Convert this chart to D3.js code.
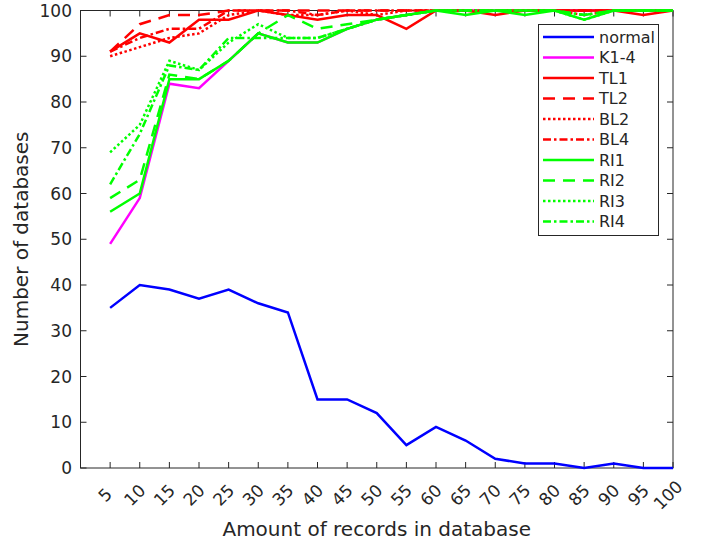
<!DOCTYPE html>
<html><head><meta charset="utf-8">
<script src="https://cdn.jsdelivr.net/npm/d3@7"></script>
<style>body{margin:0;background:#fff}svg{display:block}</style>
</head><body>
<svg id="c" width="710" height="543"></svg>
<script>
const xValues = [5,10,15,20,25,30,35,40,45,50,55,60,65,70,75,80,85,90,95,100];
const xTicks = xValues;
const yTicks = [0,10,20,30,40,50,60,70,80,90,100];
const seriesNames = ["normal","K1-4","TL1","TL2","BL2","BL4","RI1","RI2","RI3","RI4"];
const normal = [35,40,39,37,39,36,34,15,15,12,5,9,6,2,1,1,0,1,0,0];
const k14 = [49,59,84,83,89,95,93,93,96,98,99,100,100,100,100,100,100,100,100,100];
const tl1 = [91,95,93,98,98,100,99,98,99,99,96,100,100,99,100,100,100,100,99,100];
const tl2 = [91,97,99,99,100,100,100,100,100,100,100,100,100,100,100,100,100,100,100,100];
const bl2 = [90,92,94,95,99,100,99,99,100,99,100,100,100,100,100,100,99,100,100,100];
const bl4 = [91,94,96,96,100,100,100,99,100,100,100,100,100,100,100,100,100,100,100,100];
const ri1 = [56,60,85,85,89,95,93,93,96,98,99,100,99,100,99,100,98,100,100,100];
const ri2 = [59,63,86,85,89,95,99,96,97,98,99,100,100,100,100,100,99,100,100,100];
const ri3 = [69,75,89,87,93,97,94,94,96,98,99,100,100,100,100,100,98,100,100,100];
const ri4 = [62,73,88,87,94,94,94,94,96,98,99,100,100,100,100,100,99,100,100,100];
const seriesValues = [normal,k14,tl1,tl2,bl2,bl4,ri1,ri2,ri3,ri4];

const colors = ["#0000ff","#ff00ff","#ff0000","#ff0000","#ff0000","#ff0000","#00ff00","#00ff00","#00ff00","#00ff00"];
const dashes = [null,null,null,"12,8","2.5,2.5","8,3,2.5,3",null,"12,8","2.5,2.5","8,3,2.5,3"];

const svg = d3.select("#c");
const L=80.5, R=673, T=10.5, B=468;
const x = d3.scaleLinear().domain([0,100]).range([L,R]);
const y = d3.scaleLinear().domain([0,100]).range([B,T]);
const axisColor = "#262626";
const font = "DejaVu Sans, sans-serif";

// box
svg.append("rect").attr("x",L).attr("y",T).attr("width",R-L).attr("height",B-T)
  .attr("fill","none").attr("stroke",axisColor).attr("stroke-width",1);

// x ticks
const gx = svg.append("g");
xTicks.forEach(v=>{
  gx.append("line").attr("x1",x(v)).attr("x2",x(v)).attr("y1",B).attr("y2",B-6).attr("stroke",axisColor);
  gx.append("line").attr("x1",x(v)).attr("x2",x(v)).attr("y1",T).attr("y2",T+6).attr("stroke",axisColor);
  gx.append("text").attr("transform",`translate(${x(v)-5},${B+27}) rotate(-45)`)
    .attr("text-anchor","middle").attr("dominant-baseline","central")
    .attr("font-family",font).attr("font-size",17).attr("fill",axisColor).text(v);
});
// y ticks
const gy = svg.append("g");
yTicks.forEach(v=>{
  gy.append("line").attr("x1",L).attr("x2",L+6).attr("y1",y(v)).attr("y2",y(v)).attr("stroke",axisColor);
  gy.append("line").attr("x1",R).attr("x2",R-6).attr("y1",y(v)).attr("y2",y(v)).attr("stroke",axisColor);
  gy.append("text").attr("x",L-8.5).attr("y",y(v)).attr("dy","0.36em")
    .attr("text-anchor","end").attr("font-family",font).attr("font-size",17).attr("fill",axisColor).text(v);
});

// axis titles
svg.append("text").attr("x",(L+R)/2).attr("y",536).attr("text-anchor","middle")
  .attr("font-family",font).attr("font-size",20).attr("fill",axisColor).text("Amount of records in database");
svg.append("text").attr("transform",`translate(28,${(T+B)/2}) rotate(-90)`).attr("text-anchor","middle")
  .attr("font-family",font).attr("font-size",20).attr("fill",axisColor).text("Number of databases");

// lines
const line = d3.line().x((d,i)=>x(xValues[i])).y(d=>y(d));
seriesValues.forEach((vals,i)=>{
  svg.append("path").datum(vals).attr("d",line).attr("fill","none")
    .attr("stroke",colors[i]).attr("stroke-width",2.5)
    .attr("stroke-dasharray",dashes[i]);
});

// legend
const lg = svg.append("g");
lg.append("rect").attr("x",538.5).attr("y",24.5).attr("width",120).attr("height",211)
  .attr("fill","#fff").attr("stroke",axisColor).attr("stroke-width",1);
seriesNames.forEach((n,i)=>{
  const yy = 37 + i*20.5;
  lg.append("line").attr("x1",543).attr("x2",594).attr("y1",yy).attr("y2",yy)
    .attr("stroke",colors[i]).attr("stroke-width",2.5).attr("stroke-dasharray",dashes[i]);
  lg.append("text").attr("x",599).attr("y",yy).attr("dy","0.36em")
    .attr("font-family",font).attr("font-size",16).attr("fill",axisColor).text(n);
});
</script>
</body></html>
